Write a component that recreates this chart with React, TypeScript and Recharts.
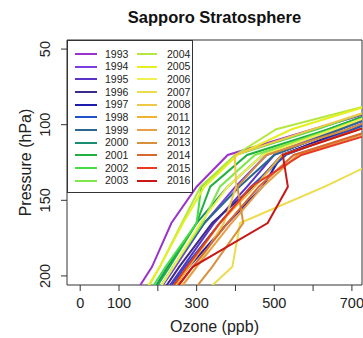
import React from 'react'
import { LineChart, Line, XAxis, YAxis, Legend, ReferenceArea } from 'recharts'

// pressure levels (hPa), roughly 11..18 km
const PRESSURE = [230, 194, 165, 141, 120, 103, 88, 75]

const YEARS = [1993, 1994, 1995, 1996, 1997, 1998, 1999, 2000, 2001, 2002, 2003,
  2004, 2005, 2006, 2007, 2008, 2011, 2012, 2013, 2014, 2015, 2016]

const COLORS = ['#9933cc', '#7a3ee0', '#5a32c8', '#3a2a8a', '#1c1cae', '#1f52c8', '#2a6890',
  '#1a8c70', '#22b040', '#44dd44', '#7ee84a', '#b4e840', '#e6f020', '#f0f050', '#ecdc4c',
  '#f0c848', '#f0b030', '#e8a048', '#d8903c', '#d86830', '#e83a20', '#c81818']

// ozone (ppb) at each pressure level
const oz1993 = [95, 185, 235, 300, 380, 600, 800, 1000]
const oz1994 = [150, 245, 320, 400, 480, 660, 820, 980]
const oz1995 = [165, 265, 345, 430, 500, 670, 830, 990]
const oz1996 = [160, 255, 340, 445, 520, 690, 840, 1000]
const oz1997 = [175, 280, 380, 470, 520, 695, 830, 980]
const oz1998 = [170, 270, 360, 440, 530, 705, 850, 1000]
const oz1999 = [150, 240, 320, 410, 500, 670, 820, 980]
const oz2000 = [140, 225, 300, 380, 470, 640, 800, 960]
const oz2001 = [140, 230, 300, 335, 430, 640, 800, 960]
const oz2002 = [130, 220, 300, 312, 400, 610, 780, 940]
const oz2003 = [150, 240, 315, 360, 450, 650, 810, 970]
const oz2004 = [125, 205, 262, 310, 400, 505, 730, 900]
const oz2005 = [120, 205, 265, 320, 405, 545, 735, 900]
const oz2006 = [150, 240, 310, 380, 470, 655, 810, 970]
const oz2007 = [240, 392, 412, 630, 800, 950, 1100, 1200]
const oz2008 = [190, 300, 370, 402, 398, 600, 780, 940]
const oz2011 = [180, 280, 360, 450, 520, 720, 870, 1020]
const oz2012 = [195, 300, 390, 470, 560, 770, 900, 1050]
const oz2013 = [230, 340, 420, 405, 480, 690, 840, 1000]
const oz2014 = [185, 290, 380, 460, 550, 760, 890, 1040]
const oz2015 = [175, 275, 360, 440, 570, 790, 920, 1060]
const oz2016 = [180, 290, 483, 535, 522, 720, 900, 1050]

const OZONE = [oz1993, oz1994, oz1995, oz1996, oz1997, oz1998, oz1999, oz2000, oz2001,
  oz2002, oz2003, oz2004, oz2005, oz2006, oz2007, oz2008, oz2011, oz2012, oz2013,
  oz2014, oz2015, oz2016]

const X_TICKS = [0, 100, 200, 300, 400, 500, 600, 700]
const X_LABELS = [0, 100, 300, 500, 700]
const Y_TICKS = [50, 100, 150, 200]

const FONT = '"Liberation Sans", Arial, sans-serif'

const YTick = (props: any) => {
  const { x, y, payload } = props
  return (
    <text transform={`translate(${x - 9},${y}) rotate(-90)`} textAnchor="middle"
      fontSize={14.5} fontFamily={FONT} fill="#222">
      {payload.value}
    </text>
  )
}

const YTitle = (props: any) => {
  const { viewBox } = props
  const cy = viewBox.y + viewBox.height / 2
  return (
    <text transform={`translate(31,${cy}) rotate(-90)`} textAnchor="middle"
      fontSize={16} fontFamily={FONT} fill="#222">
      Pressure (hPa)
    </text>
  )
}

const renderLegend = (props: any) => {
  const payload = props.payload || []
  return (
    <div style={{
      position: 'relative', width: 126, height: 153, boxSizing: 'border-box',
      border: '1px solid #333', background: '#fff', fontFamily: FONT, fontSize: 10.5, color: '#222'
    }}>
      {payload.map((entry: any, i: number) => {
        const col = i < 11 ? 0 : 1
        const row = i % 11
        const cy = 13 + row * 12.67
        return (
          <React.Fragment key={entry.value}>
            <div style={{
              position: 'absolute', left: col ? 69 : 7, top: cy - 1, width: col ? 20 : 22,
              height: 2, background: entry.color
            }} />
            <div style={{
              position: 'absolute', left: col ? 99 : 37, top: cy - 6.5, lineHeight: '13px'
            }}>{entry.value}</div>
          </React.Fragment>
        )
      })}
    </div>
  )
}

export default function App() {
  return (
    <div style={{ position: 'absolute', left: 0, top: 0, width: 363, height: 338, background: '#fff' }}>
      <div style={{
        position: 'absolute', left: 67, top: 9, width: 295, textAlign: 'center',
        fontFamily: FONT, fontWeight: 'bold', fontSize: 16.5, lineHeight: '16.5px', color: '#111'
      }}>
        Sapporo Stratosphere
      </div>
      <LineChart width={363} height={338} margin={{ top: 40, right: 1, bottom: 0, left: 0 }}>
        <XAxis type="number" dataKey="o" domain={[-34, 726]} allowDataOverflow ticks={X_TICKS}
          interval={0} height={53} tickSize={6} tickMargin={7} axisLine={false}
          tickLine={{ stroke: '#333' }}
          tick={{ fontSize: 14.5, fontFamily: FONT, fill: '#222' }}
          tickFormatter={(v: number) => (X_LABELS.includes(v) ? String(v) : '')}
          label={{ value: 'Ozone (ppb)', position: 'insideBottom', offset: 6, fontSize: 16, fontFamily: FONT, fill: '#222' }} />
        <YAxis type="number" domain={[44, 206]} reversed allowDataOverflow ticks={Y_TICKS}
          interval={0} width={67} tickSize={6} axisLine={false} tickLine={{ stroke: '#333' }}
          tick={<YTick />} label={<YTitle />} />
        <ReferenceArea x1={-34} x2={726} y1={44} y2={206} ifOverflow="visible"
          fill="none" stroke="#333" strokeWidth={1} />
        {YEARS.map((year, i) => (
          <Line key={year} name={String(year)} type="linear" dataKey="p" stroke={COLORS[i]}
            strokeWidth={2} dot={false} activeDot={false} isAnimationActive={false}
            data={PRESSURE.map((p, j) => ({ p, o: OZONE[i][j] }))} />
        ))}
        <Legend layout="vertical" align="center" verticalAlign="middle"
          wrapperStyle={{ left: 67, top: 40, width: 126, height: 153 }} content={renderLegend} />
      </LineChart>
    </div>
  )
}
